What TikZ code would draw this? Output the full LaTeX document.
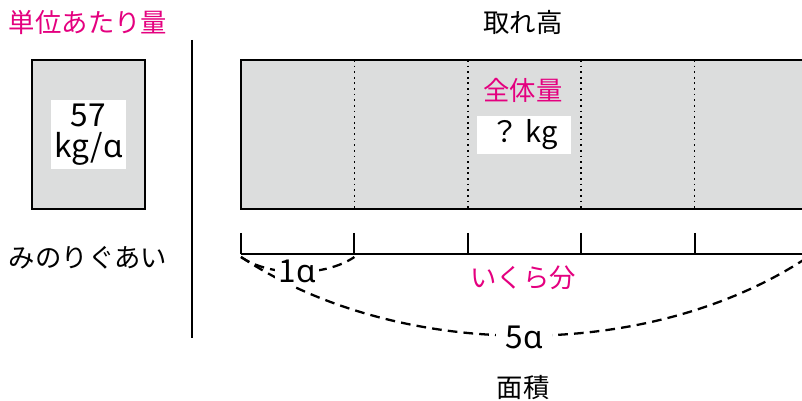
\documentclass[tikz,border=0pt]{standalone}
\usepackage{fontspec}
\setmainfont{Noto Sans CJK JP}
\newfontfamily\ipafont{Noto Sans}
\definecolor{pinkish}{HTML}{E4007F}
\definecolor{boxgray}{HTML}{DCDDDD}
\newcommand{\areunit}{{\ipafont ɑ}}

\begin{document}
\begin{tikzpicture}[x=0.02cm, y=-0.02cm, font=\fontsize{15}{16}\selectfont,
    whitelabel/.style={fill=white, inner sep=2pt, font=\fontsize{18}{17.5}\selectfont},
    arc/.style={line width=1.3pt, dash pattern=on 5.5pt off 3.5pt}]
    \clip (0,0) rectangle (802,401);
    % left side
    \node[text=pinkish] (unit) at (88,22) {単位あたり量};
    \draw[line width=0.8pt, fill=boxgray] (32,60) rectangle (145,209);
    \node[whitelabel, align=center, minimum width=1.34cm, minimum height=1.3cm] (perunit) at (88.5,134.5) {57\\kg/\areunit};
    \node (yieldrate) at (88,258) {みのりぐあい};
    \draw[line width=1.3pt] (192,40) -- (192,338);
    % right side
    \node (yield) at (523,22) {取れ高};
    \draw[line width=0.8pt, fill=boxgray] (241,60) rectangle (808,209);
    \foreach \x in {354.4,467.8,581.2,694.6}
        \draw[line width=1pt, dash pattern=on 1pt off 2.2pt] (\x,60) -- (\x,209);
    \node[text=pinkish] (whole) at (523,90) {全体量};
    \node[whitelabel, font=\fontsize{16.5}{16}\selectfont, minimum width=1.88cm, minimum height=0.72cm] (total) at (524,135) {？ kg};
    % scale
    \coordinate (s0) at (241,254);
    \coordinate (s5) at (808,254);
    \draw[line width=1.3pt] (s0) -- (s5);
    \foreach \x in {241,354.4,467.8,581.2,694.6}
        \draw[line width=1.1pt] (\x,233) -- (\x,254);
    \node[text=pinkish] (howmany) at (523,278) {いくら分};
    % areas
    \coordinate (a0) at (241,257);
    \coordinate (a1) at (354.4,257);
    \coordinate (a5) at (808,257);
    \draw[arc] (a0) .. controls (270,277) and (325,277) .. (a1);
    \draw[arc] (a0) .. controls (400,362) and (650,362) .. (a5);
    \node[whitelabel, minimum width=0.9cm, minimum height=0.56cm] (one) at (297,271) {1\areunit};
    \node[whitelabel, minimum width=1.12cm, minimum height=0.6cm] (five) at (524,337) {5\areunit};
    \node (area) at (523,388) {面積};
\end{tikzpicture}
\end{document}
